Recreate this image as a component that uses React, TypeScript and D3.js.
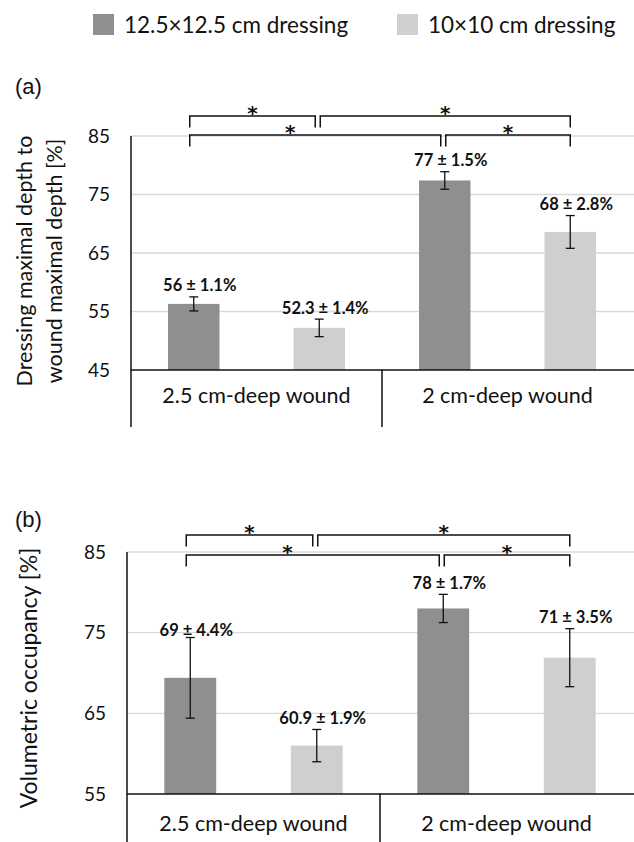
import React from "react";
import * as d3 from "d3";

// ---------- data ----------
const categories = ["2.5 cm-deep wound", "2 cm-deep wound"];
const seriesNames = ["12.5×12.5 cm dressing", "10×10 cm dressing"];
const seriesColors = ["#8f8f8f", "#cfcfcf"];

// (a) dressing maximal depth / wound maximal depth [%]
const depthLarge = [56.3, 77.4];
const depthSmall = [52.2, 68.6];
const depthLargeErr = [1.2, 1.5];
const depthSmallErr = [1.5, 2.8];
const depthLargeLabels = ["56 ± 1.1%", "77 ± 1.5%"];
const depthSmallLabels = ["52.3 ± 1.4%", "68 ± 2.8%"];
const depthTicks = [45, 55, 65, 75, 85];

// (b) volumetric occupancy [%]
const volLarge = [69.4, 78.0];
const volSmall = [61.0, 71.9];
const volLargeErr = [5.0, 1.75];
const volSmallErr = [2.0, 3.6];
const volLargeLabels = ["69 ± 4.4%", "78 ± 1.7%"];
const volSmallLabels = ["60.9 ± 1.9%", "71 ± 3.5%"];
const volTicks = [55, 65, 75, 85];

// significance brackets: bar index = category*2 + series
const comparisons: [number, number][] = [[0, 1], [1, 3], [0, 2], [2, 3]];
const comparisonRows = [0, 0, 1, 1];
const comparisonMarks = ["*", "*", "*", "*"];

const FONT = "Lato, 'Open Sans', sans-serif";

type PanelProps = {
  tag: string;
  tagY: number;
  titleLines: string[];
  titleX: number[];
  titleY: number;
  titleSize: number;
  xLeft: number;
  xRight: number;
  yTop: number;
  yBottom: number;
  boxBottom: number;
  catDy: number;
  rowY: number[];
  ticks: number[];
  series: number[][];
  errs: number[][];
  labels: string[][];
};

function Panel(p: PanelProps) {
  const y = d3.scaleLinear().domain(d3.extent(p.ticks) as [number, number]).range([p.yBottom, p.yTop]);
  const x0 = d3.scaleBand<string>().domain(categories).range([p.xLeft, p.xRight]);
  const x1 = d3.scaleBand<string>().domain(seriesNames).range([0, x0.bandwidth()]);
  const barW = x1.bandwidth() * 0.41;
  const capW = 9;

  const bars: { cx: number; v: number; e: number; label: string; color: string }[] = [];
  categories.forEach((c, ci) => {
    seriesNames.forEach((s, si) => {
      bars.push({
        cx: (x0(c) as number) + (x1(s) as number) + x1.bandwidth() / 2,
        v: p.series[si][ci],
        e: p.errs[si][ci],
        label: p.labels[si][ci],
        color: seriesColors[si],
      });
    });
  });

  const bracketEnds = comparisons.map(([a, b], k) => {
    const row = comparisonRows[k];
    const sharedStart = comparisons.some(([, bb], kk) => kk !== k && comparisonRows[kk] === row && bb === a);
    const sharedEnd = comparisons.some(([aa], kk) => kk !== k && comparisonRows[kk] === row && aa === b);
    const xa = bars[a].cx + (sharedStart ? 1 : -4);
    const xb = bars[b].cx - (sharedEnd ? 4 : 0);
    return { xa, xb, row };
  });

  return (
    <g>
      <text x={15} y={p.tagY} fontFamily="'Liberation Sans', Arial, sans-serif" fontSize={22} fill="#111">
        {p.tag}
      </text>
      {p.ticks.slice(1).map((t) => (
        <line key={"g" + t} x1={p.xLeft} x2={p.xRight + 2} y1={y(t)} y2={y(t)} stroke="#d9d9d9" strokeWidth={1.3} />
      ))}
      {p.ticks.map((t) => (
        <text key={"t" + t} x={p.xLeft - 21} y={y(t)} dy="0.35em" textAnchor="end" fontFamily={FONT} fontSize={19} fill="#111">
          {t}
        </text>
      ))}
      {p.titleLines.map((line, i) => (
        <text
          key={"yt" + i}
          transform={`translate(${p.titleX[i]},${p.titleY}) rotate(-90)`}
          textAnchor="middle"
          fontFamily={FONT}
          fontSize={p.titleSize}
          fill="#111"
        >
          {line}
        </text>
      ))}
      {bars.map((b, i) => (
        <rect key={"b" + i} x={b.cx - barW / 2} y={y(b.v)} width={barW} height={p.yBottom - y(b.v)} fill={b.color} />
      ))}
      {bars.map((b, i) => (
        <g key={"e" + i} stroke="#111" strokeWidth={1.3}>
          <line x1={b.cx} x2={b.cx} y1={y(b.v + b.e)} y2={y(b.v - b.e)} />
          <line x1={b.cx - capW / 2} x2={b.cx + capW / 2} y1={y(b.v + b.e)} y2={y(b.v + b.e)} />
          <line x1={b.cx - capW / 2} x2={b.cx + capW / 2} y1={y(b.v - b.e)} y2={y(b.v - b.e)} />
        </g>
      ))}
      {bars.map((b, i) => {
        const stated = parseFloat(b.label.split("±")[1]);
        return (
          <text
            key={"l" + i}
            x={b.cx + 6}
            y={y(b.v + stated) - 6}
            textAnchor="middle"
            fontFamily={FONT}
            fontWeight="bold"
            fontSize={16.5}
            fill="#111"
          >
            {b.label}
          </text>
        );
      })}
      <g stroke="#111" strokeWidth={1.5}>
        <line x1={p.xLeft} x2={p.xRight + 2} y1={p.yBottom} y2={p.yBottom} />
        <line x1={p.xLeft} x2={p.xLeft} y1={p.yTop} y2={p.boxBottom} />
        {categories.slice(1).map((c) => (
          <line key={"d" + c} x1={x0(c) as number} x2={x0(c) as number} y1={p.yBottom} y2={p.boxBottom} />
        ))}
      </g>
      {categories.map((c) => (
        <text
          key={"c" + c}
          x={(x0(c) as number) + x0.bandwidth() / 2}
          y={p.yBottom + p.catDy}
          textAnchor="middle"
          fontFamily={FONT}
          fontSize={21.5}
          fill="#111"
        >
          {c}
        </text>
      ))}
      {bracketEnds.map((br, k) => {
        const ly = p.yTop + p.rowY[br.row];
        const starX = k === 2 ? br.xa + (br.xb - br.xa) * 0.4 : (br.xa + br.xb) / 2;
        return (
          <g key={"br" + k}>
            <path
              d={`M${br.xa},${ly + 11.5}V${ly}H${br.xb}V${ly + 11.5}`}
              fill="none"
              stroke="#111"
              strokeWidth={1.5}
            />
            <text
              x={starX}
              y={ly + 4}
              textAnchor="middle"
              fontFamily="'DejaVu Sans', sans-serif"
              fontWeight="bold"
              fontSize={20}
              fill="#111"
            >
              {comparisonMarks[k]}
            </text>
          </g>
        );
      })}
    </g>
  );
}

export default function App() {
  return (
    <div style={{ position: "absolute", left: 0, top: 0 }}>
      <svg width={634} height={842} style={{ display: "block", background: "#fff" }}>
        {seriesNames.map((s, i) => {
          const lx = [93, 397][i];
          return (
            <g key={"lg" + i}>
              <rect x={lx} y={14} width={21} height={21} fill={seriesColors[i]} />
              <text x={lx + 31} y={33} fontFamily={FONT} fontSize={22.5} fill="#111">
                {s}
              </text>
            </g>
          );
        })}
        <Panel
          tag="(a)"
          tagY={94}
          titleLines={["Dressing maximal depth to", "wound maximal depth [%]"]}
          titleX={[32, 62]}
          titleY={261}
          titleSize={21.5}
          xLeft={131}
          xRight={633}
          yTop={136}
          yBottom={370}
          boxBottom={427}
          catDy={33}
          rowY={[-20, -1]}
          ticks={depthTicks}
          series={[depthLarge, depthSmall]}
          errs={[depthLargeErr, depthSmallErr]}
          labels={[depthLargeLabels, depthSmallLabels]}
        />
        <Panel
          tag="(b)"
          tagY={527}
          titleLines={["Volumetric occupancy [%]"]}
          titleX={[37]}
          titleY={678}
          titleSize={23}
          xLeft={127}
          xRight={633}
          yTop={552}
          yBottom={794}
          boxBottom={850}
          catDy={37}
          rowY={[-17, 3]}
          ticks={volTicks}
          series={[volLarge, volSmall]}
          errs={[volLargeErr, volSmallErr]}
          labels={[volLargeLabels, volSmallLabels]}
        />
      </svg>
    </div>
  );
}
